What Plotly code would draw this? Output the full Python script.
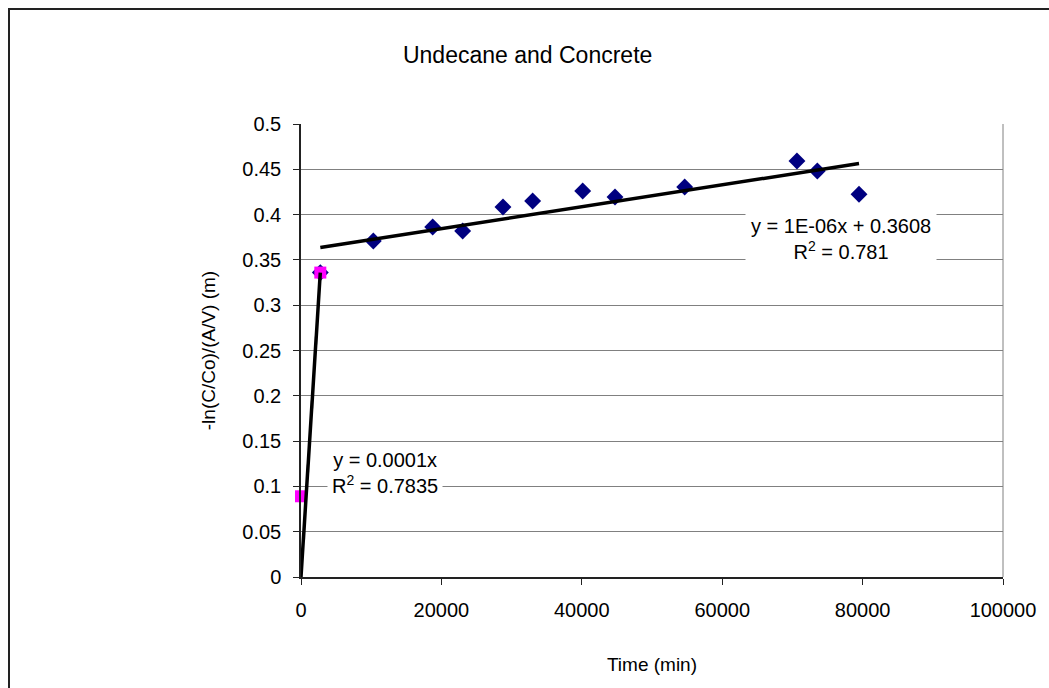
import numpy as np
import plotly.graph_objects as go

# ---- data ----
early_time = [0, 2750]
early_val = [0.0891, 0.336]

late_time = [2750, 10300, 18760, 23030, 28770, 33000, 40130, 44730, 54660, 70650, 73550, 79490]
late_val = [0.336, 0.3709, 0.3863, 0.3819, 0.4084, 0.4150, 0.4260, 0.4194, 0.4305, 0.4592, 0.4481, 0.4224]

x_ticks = [0, 20000, 40000, 60000, 80000, 100000]
y_ticks = [0, 0.05, 0.1, 0.15, 0.2, 0.25, 0.3, 0.35, 0.4, 0.45, 0.5]

title_text = "Undecane and Concrete"
x_title = "Time (min)"
y_title = "-ln(C/Co)/(A/V) (m)"
eq_early = "y = 0.0001x<br>R<sup>2</sup> = 0.7835"
eq_late = "y = 1E-06x + 0.3608<br>R<sup>2</sup> = 0.781"

# ---- trendlines computed from the data ----
ex = np.array(early_time, float); ey = np.array(early_val, float)
slope0 = float((ex * ey).sum() / (ex * ex).sum())  # through origin
early_fit_x = [0.0, float(ex.max())]
early_fit_y = [slope0 * v for v in early_fit_x]

lx = np.array(late_time, float); ly = np.array(late_val, float)
m, b = np.polyfit(lx, ly, 1)
late_fit_x = [float(lx.min()), float(lx.max())]
late_fit_y = [m * v + b for v in late_fit_x]

FONT = "Liberation Sans, Arial, sans-serif"

fig = go.Figure()
fig.add_trace(go.Scatter(x=late_time, y=late_val, mode="markers",
                         marker=dict(symbol="diamond", size=13, color="#000080"),
                         cliponaxis=False, showlegend=False))
fig.add_trace(go.Scatter(x=early_time, y=early_val, mode="markers",
                         marker=dict(symbol="square", size=12, color="#FF00FF"),
                         cliponaxis=False, showlegend=False))
fig.add_trace(go.Scatter(x=early_fit_x, y=early_fit_y, mode="lines",
                         line=dict(color="black", width=3.5), showlegend=False))
fig.add_trace(go.Scatter(x=late_fit_x, y=late_fit_y, mode="lines",
                         line=dict(color="black", width=3.5), showlegend=False))

fig.add_annotation(x=76900, y=0.373, xref="x", yref="y", text=eq_late,
                   showarrow=False, bgcolor="white", borderpad=5,
                   font=dict(family=FONT, size=20, color="black"))
fig.add_annotation(x=11970, y=0.1148, xref="x", yref="y", text=eq_early,
                   showarrow=False, bgcolor="white", borderpad=4,
                   font=dict(family=FONT, size=20, color="black"))

# outer chart border and right edge of plot area
fig.add_shape(type="rect", xref="paper", yref="paper",
              x0=(9 - 301) / 702, x1=(1060 - 301) / 702,
              y0=(577 - 700) / 453, y1=(577 - 9) / 453,
              line=dict(color="#222", width=2), layer="below")
fig.add_shape(type="line", xref="paper", yref="paper", x0=1, x1=1, y0=0, y1=1,
              line=dict(color="#808080", width=1), layer="below")

fig.update_layout(
    width=1049, height=688,
    margin=dict(l=301, r=46, t=124, b=111),
    paper_bgcolor="white", plot_bgcolor="white",
    title=dict(text=title_text, x=0.503, xanchor="center", y=1 - 55 / 688, yanchor="middle",
               font=dict(family=FONT, size=23, color="black")),
    font=dict(family=FONT, size=20, color="black"),
    xaxis=dict(range=[0, 100000], tickvals=x_ticks, tickformat="d",
               showgrid=False, zeroline=False, showline=True, linecolor="#222", linewidth=1.5,
               ticks="outside", ticklen=6, tickcolor="#222", ticklabelstandoff=8,
               tickfont=dict(family=FONT, size=20, color="black"),
               title=dict(text=x_title, font=dict(family=FONT, size=19, color="black"), standoff=38)),
    yaxis=dict(range=[0, 0.5], tickvals=y_ticks,
               showgrid=True, gridcolor="#808080", gridwidth=1,
               zeroline=False, showline=True, linecolor="#222", linewidth=1.5,
               ticks="outside", ticklen=6, tickcolor="#222", ticklabelstandoff=8,
               tickfont=dict(family=FONT, size=20, color="black"),
               title=dict(text=y_title, font=dict(family=FONT, size=19, color="black"), standoff=22)),
)

fig.write_html("out.html")
